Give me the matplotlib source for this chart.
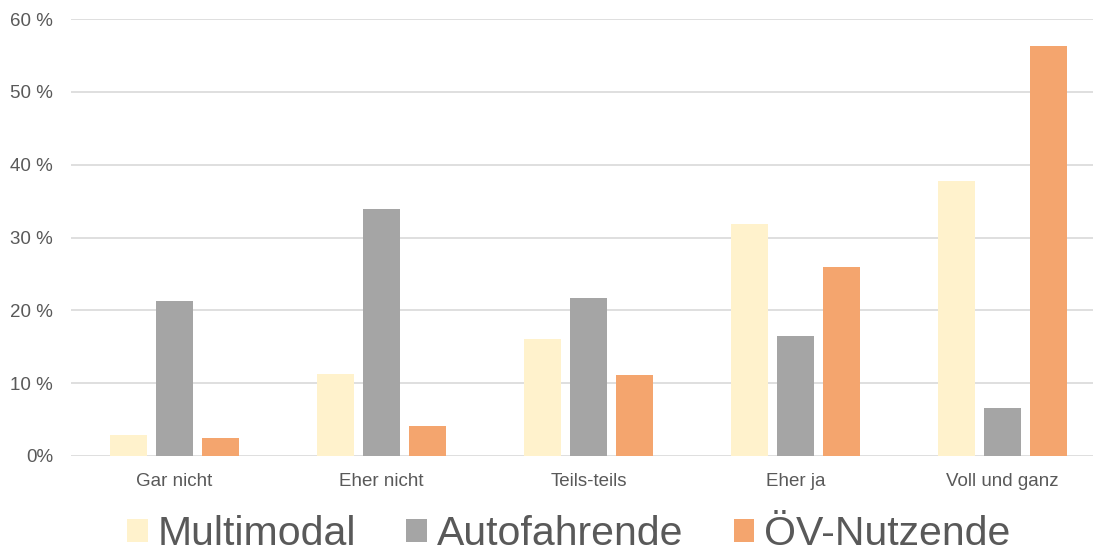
import matplotlib
matplotlib.use("Agg")
import matplotlib.pyplot as plt
import numpy as np
from matplotlib.patches import Patch

plt.rcParams['font.family'] = ['Liberation Sans', 'DejaVu Sans']

categories = ["Gar nicht", "Eher nicht", "Teils-teils", "Eher ja", "Voll und ganz"]
series_names = ["Multimodal", "Autofahrende", "ÖV-Nutzende"]
multimodal = [2.9, 11.3, 16.1, 31.9, 37.8]
autofahrende = [21.3, 33.9, 21.7, 16.5, 6.6]
oev = [2.5, 4.1, 11.1, 26.0, 56.3]
colors = ["#FFF2CC", "#A5A5A5", "#F4A56E"]
yticks = [0, 10, 20, 30, 40, 50, 60]
ytick_labels = ["0%", "10 %", "20 %", "30 %", "40 %", "50 %", "60 %"]

fig = plt.figure(figsize=(10.93, 5.53), dpi=100)
ax = fig.add_axes([71/1093, 1-456/553, 1022/1093, (456-19)/553])

x = np.arange(len(categories))
w = 0.176
off = 0.223
for i, (vals, c) in enumerate(zip([multimodal, autofahrende, oev], colors)):
    ax.bar(x + (i-1)*off, vals, width=w, color=c, zorder=3)

ax.set_ylim(0, 60)
ax.set_xlim(-0.5, -0.5 + 1022/207)
ax.set_yticks(yticks)
ax.set_yticklabels(ytick_labels, fontsize=13.5, color="#595959")
ax.set_xticks(x)
ax.set_xticklabels(categories, fontsize=13.5, color="#595959")
ax.tick_params(axis='both', length=0)
ax.tick_params(axis='y', pad=13)
ax.tick_params(axis='x', pad=12)
ax.grid(axis='y', color="#D9D9D9", linewidth=1.2, zorder=0)
for s in ax.spines.values():
    s.set_visible(False)

handles = [Patch(facecolor=c, edgecolor='none') for c in colors]
leg = fig.legend(handles, series_names, loc='center', bbox_to_anchor=(569/1093, 1-534/553),
                 ncol=3, frameon=False, fontsize=29.5, handlelength=0.5, handleheight=0.5,
                 handletextpad=0.25, columnspacing=1.22, labelcolor="#595959")

fig.savefig("out.png", dpi=100)
